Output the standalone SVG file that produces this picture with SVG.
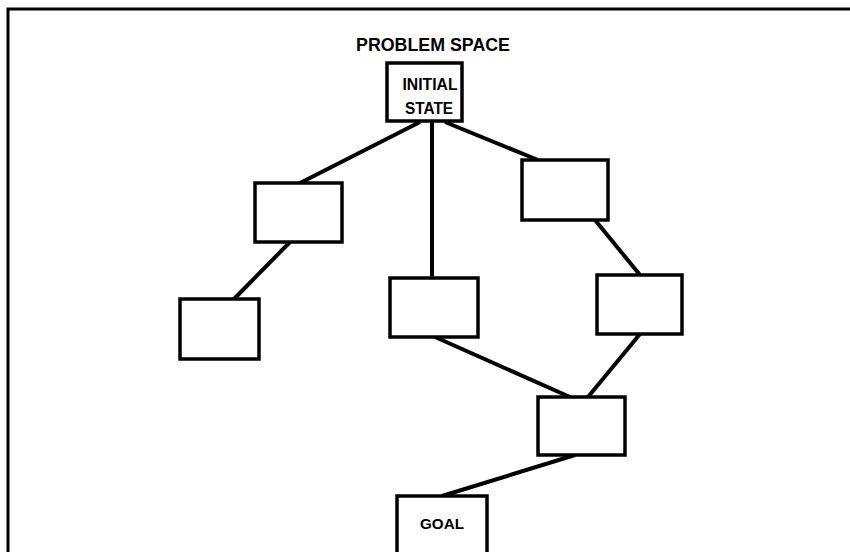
<svg xmlns="http://www.w3.org/2000/svg" width="850" height="552" viewBox="0 0 850 552">
<style>
.box{fill:#fff;stroke:#000;stroke-width:3.5}
.ln{stroke:#000;stroke-width:4;stroke-linecap:butt;fill:none}
.t{font-family:"Liberation Sans",Arial,sans-serif;font-weight:bold;fill:#000;text-anchor:middle}
</style>
<rect width="850" height="552" fill="#fff"/>
<g id="frame">
<path d="M8,552 V9 H850" fill="none" stroke="#000" stroke-width="3"/>
<text class="t" x="433" y="51" font-size="17.5" textLength="154" lengthAdjust="spacingAndGlyphs">PROBLEM SPACE</text>
</g>
<g id="connectors">
<line class="ln" x1="420" y1="122" x2="300" y2="183"/>
<line class="ln" x1="432" y1="122" x2="432" y2="278"/>
<line class="ln" x1="445" y1="122" x2="538" y2="160"/>
<line class="ln" x1="290" y1="242" x2="233" y2="300"/>
<line class="ln" x1="595" y1="220" x2="640" y2="275"/>
<line class="ln" x1="435" y1="337" x2="570" y2="397"/>
<line class="ln" x1="640" y1="334" x2="588" y2="397"/>
<line class="ln" x1="575" y1="455" x2="442" y2="496"/>
</g>
<g id="initial">
<rect class="box" x="387" y="63" width="75" height="58"/>
<text class="t" x="430" y="90" font-size="16.5" textLength="55" lengthAdjust="spacingAndGlyphs">INITIAL</text>
<text class="t" x="429" y="114" font-size="16.5" textLength="48" lengthAdjust="spacingAndGlyphs">STATE</text>
</g>
<g id="n1"><rect class="box" x="255" y="183" width="87" height="59"/></g>
<g id="n2"><rect class="box" x="180" y="299" width="79" height="60"/></g>
<g id="n3"><rect class="box" x="390" y="278" width="88" height="59"/></g>
<g id="n4"><rect class="box" x="522" y="160" width="86" height="60"/></g>
<g id="n5"><rect class="box" x="597" y="275" width="85" height="59"/></g>
<g id="n6"><rect class="box" x="538" y="397" width="87" height="58"/></g>
<g id="goal">
<rect class="box" x="397" y="496" width="90" height="60"/>
<text class="t" x="442" y="529" font-size="15" textLength="44" lengthAdjust="spacingAndGlyphs">GOAL</text>
</g>
</svg>
